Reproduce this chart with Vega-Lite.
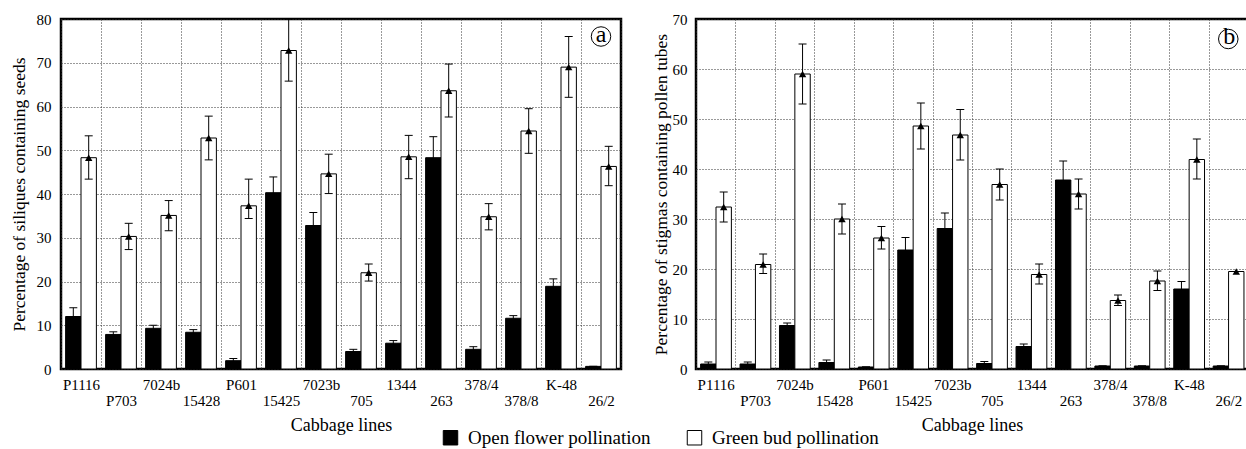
{
  "$schema": "https://vega.github.io/schema/vega-lite/v6.json",
  "padding": {"left": 8, "top": 10, "right": 0, "bottom": 0},
  "background": "white",
  "spacing": 27,
  "config": {
    "font": "Liberation Serif",
    "view": {"stroke": "black", "strokeWidth": 2.5},
    "axis": {
      "labelFont": "Liberation Serif", "titleFont": "Liberation Serif",
      "labelColor": "black", "titleColor": "black", "titleFontWeight": "normal",
      "labelFontSize": 15, "titleFontSize": 17.5,
      "gridColor": "#333", "gridDash": [1, 2], "gridWidth": 1, "gridOpacity": 1,
      "ticks": false, "domain": false
    },
    "legend": {"labelFont": "Liberation Serif", "labelColor": "black"}
  },
  "datasets": {
    "a": [
      {"line": "P1116", "type": "Open flower pollination", "value": 12, "low": 10, "high": 14},
      {"line": "P1116", "type": "Green bud pollination", "value": 48.3, "low": 43.4, "high": 53.3},
      {"line": "P703", "type": "Open flower pollination", "value": 7.9, "low": 7.3, "high": 8.5},
      {"line": "P703", "type": "Green bud pollination", "value": 30.3, "low": 27.3, "high": 33.3},
      {"line": "7024b", "type": "Open flower pollination", "value": 9.3, "low": 8.6, "high": 10},
      {"line": "7024b", "type": "Green bud pollination", "value": 35.1, "low": 31.6, "high": 38.5},
      {"line": "15428", "type": "Open flower pollination", "value": 8.4, "low": 7.8, "high": 9},
      {"line": "15428", "type": "Green bud pollination", "value": 52.8, "low": 47.8, "high": 57.8},
      {"line": "P601", "type": "Open flower pollination", "value": 1.9, "low": 1.4, "high": 2.4},
      {"line": "P601", "type": "Green bud pollination", "value": 37.3, "low": 34.4, "high": 43.4},
      {"line": "15425", "type": "Open flower pollination", "value": 40.3, "low": 36.7, "high": 43.9},
      {"line": "15425", "type": "Green bud pollination", "value": 72.8, "low": 65.8, "high": 80},
      {"line": "7023b", "type": "Open flower pollination", "value": 32.8, "low": 29.8, "high": 35.8},
      {"line": "7023b", "type": "Green bud pollination", "value": 44.6, "low": 40.1, "high": 49.1},
      {"line": "705", "type": "Open flower pollination", "value": 4, "low": 3.5, "high": 4.5},
      {"line": "705", "type": "Green bud pollination", "value": 22, "low": 20.1, "high": 24},
      {"line": "1344", "type": "Open flower pollination", "value": 5.9, "low": 5.2, "high": 6.5},
      {"line": "1344", "type": "Green bud pollination", "value": 48.5, "low": 43.5, "high": 53.4},
      {"line": "263", "type": "Open flower pollination", "value": 48.3, "low": 43.5, "high": 53.1},
      {"line": "263", "type": "Green bud pollination", "value": 63.6, "low": 57.6, "high": 69.7},
      {"line": "378/4", "type": "Open flower pollination", "value": 4.5, "low": 3.9, "high": 5.1},
      {"line": "378/4", "type": "Green bud pollination", "value": 34.8, "low": 31.8, "high": 37.8},
      {"line": "378/8", "type": "Open flower pollination", "value": 11.6, "low": 11, "high": 12.2},
      {"line": "378/8", "type": "Green bud pollination", "value": 54.4, "low": 49.3, "high": 59.5},
      {"line": "K-48", "type": "Open flower pollination", "value": 18.9, "low": 17.2, "high": 20.6},
      {"line": "K-48", "type": "Green bud pollination", "value": 69, "low": 62.1, "high": 76},
      {"line": "26/2", "type": "Open flower pollination", "value": 0.6, "low": 0.6, "high": 0.6},
      {"line": "26/2", "type": "Green bud pollination", "value": 46.3, "low": 41.9, "high": 50.9}
    ],
    "b": [
      {"line": "P1116", "type": "Open flower pollination", "value": 1, "low": 0.6, "high": 1.4},
      {"line": "P1116", "type": "Green bud pollination", "value": 32.4, "low": 29.4, "high": 35.4},
      {"line": "P703", "type": "Open flower pollination", "value": 1, "low": 0.6, "high": 1.4},
      {"line": "P703", "type": "Green bud pollination", "value": 20.9, "low": 19.1, "high": 23},
      {"line": "7024b", "type": "Open flower pollination", "value": 8.7, "low": 8.2, "high": 9.2},
      {"line": "7024b", "type": "Green bud pollination", "value": 59, "low": 53, "high": 65},
      {"line": "15428", "type": "Open flower pollination", "value": 1.3, "low": 0.9, "high": 1.8},
      {"line": "15428", "type": "Green bud pollination", "value": 30, "low": 27, "high": 33},
      {"line": "P601", "type": "Open flower pollination", "value": 0.4, "low": 0.4, "high": 0.4},
      {"line": "P601", "type": "Green bud pollination", "value": 26.2, "low": 24, "high": 28.5},
      {"line": "15425", "type": "Open flower pollination", "value": 23.8, "low": 21.4, "high": 26.3},
      {"line": "15425", "type": "Green bud pollination", "value": 48.6, "low": 44, "high": 53.2},
      {"line": "7023b", "type": "Open flower pollination", "value": 28.1, "low": 25, "high": 31.2},
      {"line": "7023b", "type": "Green bud pollination", "value": 46.8, "low": 41.8, "high": 51.9},
      {"line": "705", "type": "Open flower pollination", "value": 1.1, "low": 0.7, "high": 1.5},
      {"line": "705", "type": "Green bud pollination", "value": 36.9, "low": 33.8, "high": 40},
      {"line": "1344", "type": "Open flower pollination", "value": 4.5, "low": 4.1, "high": 5},
      {"line": "1344", "type": "Green bud pollination", "value": 18.9, "low": 17, "high": 21},
      {"line": "263", "type": "Open flower pollination", "value": 37.8, "low": 34, "high": 41.6},
      {"line": "263", "type": "Green bud pollination", "value": 35, "low": 32, "high": 38},
      {"line": "378/4", "type": "Open flower pollination", "value": 0.6, "low": 0.6, "high": 0.6},
      {"line": "378/4", "type": "Green bud pollination", "value": 13.7, "low": 12.7, "high": 14.8},
      {"line": "378/8", "type": "Open flower pollination", "value": 0.6, "low": 0.6, "high": 0.6},
      {"line": "378/8", "type": "Green bud pollination", "value": 17.6, "low": 15.7, "high": 19.6},
      {"line": "K-48", "type": "Open flower pollination", "value": 16, "low": 14.4, "high": 17.5},
      {"line": "K-48", "type": "Green bud pollination", "value": 41.9, "low": 38, "high": 46},
      {"line": "26/2", "type": "Open flower pollination", "value": 0.6, "low": 0.6, "high": 0.6},
      {"line": "26/2", "type": "Green bud pollination", "value": 19.5, "low": 19.5, "high": 19.5}
    ]
  },
  "hconcat": [
    {
      "width": 560, "height": 350,
      "data": {"name": "a"},
      "encoding": {
        "x": {
          "field": "line", "type": "nominal",
          "sort": ["P1116", "P703", "7024b", "15428", "P601", "15425", "7023b", "705", "1344", "263", "378/4", "378/8", "K-48", "26/2"],
          "scale": {"paddingInner": 0, "paddingOuter": 0},
          "axis": {
            "title": "Cabbage lines", "titleFontSize": 18, "titlePadding": 8,
            "tickBand": "extent", "grid": true, "labelAngle": 0, "labelPadding": 8,
            "labelBaseline": "top", "labelLineHeight": 16, "labelOverlap": false, "labelBound": false,
            "labelExpr": "indexof(['P703','15428','15425','705','263','378/8','26/2'], datum.value) >= 0 ? ['', datum.value] : datum.value"
          }
        }
      },
      "layer": [
        {
          "mark": {"type": "bar", "stroke": "black", "strokeWidth": 1, "opacity": 1},
          "encoding": {
            "xOffset": {"field": "type", "type": "nominal", "sort": ["Open flower pollination", "Green bud pollination"], "scale": {"paddingInner": 0, "paddingOuter": 0.3}},
            "y": {"field": "value", "type": "quantitative", "title": "Percentage of siliques containing seeds", "scale": {"domain": [0, 80], "nice": false},
              "axis": {"title": "Percentage of siliques containing seeds", "values": [0, 10, 20, 30, 40, 50, 60, 70, 80], "labelPadding": 10, "titlePadding": 8}},
            "color": {"field": "type", "type": "nominal",
              "scale": {"domain": ["Open flower pollination", "Green bud pollination"], "range": ["black", "white"]},
              "legend": {"orient": "none", "legendX": 380, "legendY": 409, "direction": "horizontal", "title": null,
                "symbolType": "square", "symbolSize": 210, "symbolStrokeColor": "black", "symbolStrokeWidth": 1, "symbolOpacity": 1,
                "labelFontSize": 19, "labelLimit": 0, "columnPadding": 34, "labelOffset": 8, "padding": 0}}
          }
        },
        {
          "mark": {"type": "rule", "color": "black", "strokeWidth": 1},
          "encoding": {
            "xOffset": {"field": "type", "type": "nominal", "sort": ["Open flower pollination", "Green bud pollination"]},
            "y": {"field": "low", "type": "quantitative", "title": "Percentage of siliques containing seeds"},
            "y2": {"field": "high"}
          }
        },
        {
          "mark": {"type": "tick", "color": "black", "size": 8, "thickness": 1, "opacity": 1},
          "encoding": {
            "xOffset": {"field": "type", "type": "nominal", "sort": ["Open flower pollination", "Green bud pollination"]},
            "y": {"field": "high", "type": "quantitative", "title": "Percentage of siliques containing seeds"}
          }
        },
        {
          "mark": {"type": "tick", "color": "black", "size": 8, "thickness": 1, "opacity": 1},
          "encoding": {
            "xOffset": {"field": "type", "type": "nominal", "sort": ["Open flower pollination", "Green bud pollination"]},
            "y": {"field": "low", "type": "quantitative", "title": "Percentage of siliques containing seeds"}
          }
        },
        {
          "transform": [{"filter": "datum.type == 'Green bud pollination'"}],
          "mark": {"type": "point", "shape": "triangle-up", "filled": true, "color": "black", "size": 55, "opacity": 1},
          "encoding": {
            "xOffset": {"field": "type", "type": "nominal", "sort": ["Open flower pollination", "Green bud pollination"]},
            "y": {"field": "value", "type": "quantitative", "title": "Percentage of siliques containing seeds"}
          }
        },
        {
          "data": {"values": [{"label": "a"}]},
          "mark": {"type": "point", "shape": "circle", "filled": false, "color": "black", "size": 380, "strokeWidth": 1, "opacity": 1},
          "encoding": {"x": {"datum": "26/2"}, "y": {"datum": 76, "type": "quantitative", "title": "Percentage of siliques containing seeds"}}
        },
        {
          "data": {"values": [{"label": "a"}]},
          "mark": {"type": "text", "fontSize": 24, "font": "Liberation Serif", "baseline": "middle", "align": "center", "dy": -2, "color": "black"},
          "encoding": {"x": {"datum": "26/2"}, "y": {"datum": 76, "type": "quantitative", "title": "Percentage of siliques containing seeds"}, "text": {"field": "label"}}
        }
      ]
    },
    {
      "width": 552, "height": 350,
      "data": {"name": "b"},
      "encoding": {
        "x": {
          "field": "line", "type": "nominal",
          "sort": ["P1116", "P703", "7024b", "15428", "P601", "15425", "7023b", "705", "1344", "263", "378/4", "378/8", "K-48", "26/2"],
          "scale": {"paddingInner": 0, "paddingOuter": 0},
          "axis": {
            "title": "Cabbage lines", "titleFontSize": 18, "titlePadding": 8,
            "tickBand": "extent", "grid": true, "labelAngle": 0, "labelPadding": 8,
            "labelBaseline": "top", "labelLineHeight": 16, "labelOverlap": false, "labelBound": false,
            "labelExpr": "indexof(['P703','15428','15425','705','263','378/8','26/2'], datum.value) >= 0 ? ['', datum.value] : datum.value"
          }
        }
      },
      "layer": [
        {
          "mark": {"type": "bar", "stroke": "black", "strokeWidth": 1, "opacity": 1},
          "encoding": {
            "xOffset": {"field": "type", "type": "nominal", "sort": ["Open flower pollination", "Green bud pollination"], "scale": {"paddingInner": 0, "paddingOuter": 0.3}},
            "y": {"field": "value", "type": "quantitative", "title": "Percentage of stigmas containing pollen tubes", "scale": {"domain": [0, 70], "nice": false},
              "axis": {"title": "Percentage of stigmas containing pollen tubes", "values": [0, 10, 20, 30, 40, 50, 60, 70], "labelPadding": 9, "titlePadding": 2}},
            "color": {"field": "type", "type": "nominal",
              "scale": {"domain": ["Open flower pollination", "Green bud pollination"], "range": ["black", "white"]}}
          }
        },
        {
          "mark": {"type": "rule", "color": "black", "strokeWidth": 1},
          "encoding": {
            "xOffset": {"field": "type", "type": "nominal", "sort": ["Open flower pollination", "Green bud pollination"]},
            "y": {"field": "low", "type": "quantitative", "title": "Percentage of stigmas containing pollen tubes"},
            "y2": {"field": "high"}
          }
        },
        {
          "mark": {"type": "tick", "color": "black", "size": 8, "thickness": 1, "opacity": 1},
          "encoding": {
            "xOffset": {"field": "type", "type": "nominal", "sort": ["Open flower pollination", "Green bud pollination"]},
            "y": {"field": "high", "type": "quantitative", "title": "Percentage of stigmas containing pollen tubes"}
          }
        },
        {
          "mark": {"type": "tick", "color": "black", "size": 8, "thickness": 1, "opacity": 1},
          "encoding": {
            "xOffset": {"field": "type", "type": "nominal", "sort": ["Open flower pollination", "Green bud pollination"]},
            "y": {"field": "low", "type": "quantitative", "title": "Percentage of stigmas containing pollen tubes"}
          }
        },
        {
          "transform": [{"filter": "datum.type == 'Green bud pollination'"}],
          "mark": {"type": "point", "shape": "triangle-up", "filled": true, "color": "black", "size": 55, "opacity": 1},
          "encoding": {
            "xOffset": {"field": "type", "type": "nominal", "sort": ["Open flower pollination", "Green bud pollination"]},
            "y": {"field": "value", "type": "quantitative", "title": "Percentage of stigmas containing pollen tubes"}
          }
        },
        {
          "data": {"values": [{"label": "b"}]},
          "mark": {"type": "point", "shape": "circle", "filled": false, "color": "black", "size": 380, "strokeWidth": 1, "opacity": 1, "dx": 1},
          "encoding": {"x": {"datum": "26/2"}, "y": {"datum": 66, "type": "quantitative", "title": "Percentage of stigmas containing pollen tubes"}}
        },
        {
          "data": {"values": [{"label": "b"}]},
          "mark": {"type": "text", "fontSize": 24, "font": "Liberation Serif", "baseline": "middle", "align": "center", "dy": -2, "dx": 1, "color": "black"},
          "encoding": {"x": {"datum": "26/2"}, "y": {"datum": 66, "type": "quantitative", "title": "Percentage of stigmas containing pollen tubes"}, "text": {"field": "label"}}
        }
      ]
    }
  ]
}
